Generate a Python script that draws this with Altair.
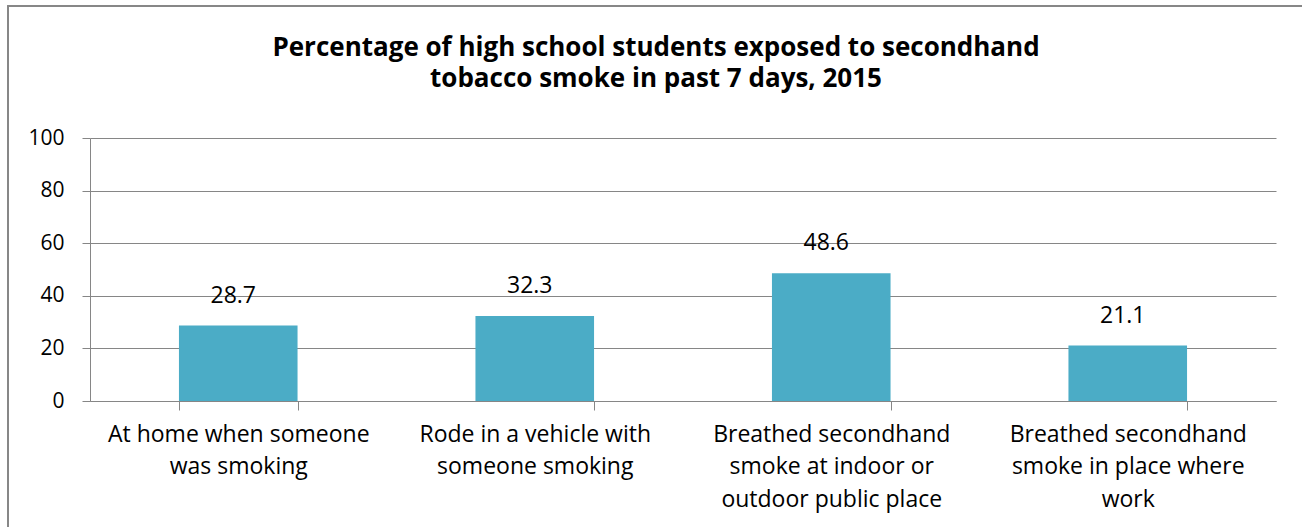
import altair as alt
import pandas as pd

categories = [
    "At home when someone|was smoking",
    "Rode in a vehicle with|someone smoking",
    "Breathed secondhand|smoke at indoor or|outdoor public place",
    "Breathed secondhand|smoke in place where|work",
]
values = [28.7, 32.3, 48.6, 21.1]
y_ticks = [0, 20, 40, 60, 80, 100]
title_lines = [
    "Percentage of high school students exposed to secondhand",
    "tobacco smoke in past 7 days, 2015",
]

df = pd.DataFrame({"category": categories, "value": values})

FONT = "Open Sans"
GRID = "#868686"
BAR = "#4BACC6"

x_enc = alt.X(
    "category:N",
    sort=categories,
    scale=alt.Scale(paddingInner=0.6, paddingOuter=0.3),
    axis=alt.Axis(
        title=None,
        labelAngle=0,
        labelExpr="split(datum.label, '|')",
        labelFont=FONT,
        labelFontSize=23,
        labelColor="#000000",
        labelLineHeight=32.5,
        labelBaseline="top",
        labelPadding=13,
        labelLimit=0,
        tickBand="extent",
        tickSize=9,
        tickColor=GRID,
        domainColor=GRID,
        domainWidth=1,
        tickWidth=1,
        grid=False,
    ),
)

y_enc = alt.Y(
    "value:Q",
    scale=alt.Scale(domain=[0, 100], nice=False),
    axis=alt.Axis(
        title=None,
        values=y_ticks,
        labelFont=FONT,
        labelFontSize=21,
        labelColor="#000000",
        labelPadding=18,
        tickSize=8,
        tickColor=GRID,
        domainColor=GRID,
        gridColor=GRID,
        gridWidth=1,
        grid=True,
    ),
)

bars = alt.Chart(df).mark_bar(color=BAR).encode(x=x_enc, y=y_enc)

labels = alt.Chart(df).mark_text(
    font=FONT, fontSize=23, color="#000000", baseline="alphabetic", dy=-23, dx=-5
).encode(
    x=alt.X("category:N", sort=categories),
    y=alt.Y("value:Q"),
    text=alt.Text("value:Q", format=".1f"),
)

frame = alt.Chart(df).mark_rect(
    fill=None, stroke="#878787", strokeWidth=1.5
).encode(
    x=alt.value(-82), x2=alt.value(1300), y=alt.value(-132), y2=alt.value(400)
)

chart = alt.layer(frame, bars, labels).properties(
    width=1186,
    height=263,
    padding={"left": 90, "top": 138, "right": 26, "bottom": 126},
    autosize=alt.AutoSizeParams(type="none"),
    title=alt.Title(
        title_lines,
        font=FONT,
        fontSize=26,
        fontWeight="bold",
        color="#000000",
        anchor="middle",
        frame="group",
        dx=-27,
        offset=-87,
        lineHeight=31,
    ),
).configure_view(stroke=None)

chart.save("out.html", embed_options={"renderer": "svg", "actions": False})
